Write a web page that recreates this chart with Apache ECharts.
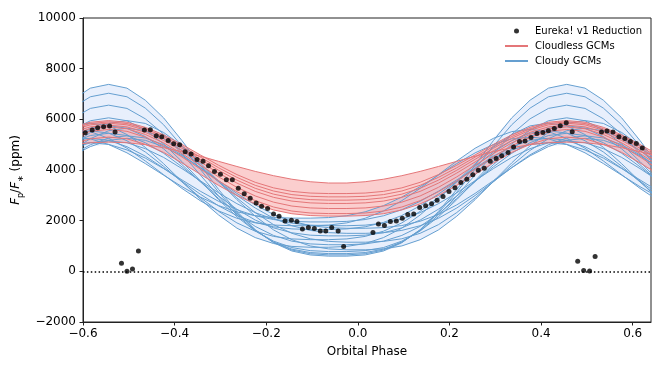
<!DOCTYPE html>
<html><head><meta charset="utf-8">
<script src="https://cdn.jsdelivr.net/npm/echarts/dist/echarts.min.js"></script>
<style>html,body{margin:0;padding:0;background:#fff}#c{width:664px;height:369px}</style>
</head><body><div id="c"></div>
<script>
// model phase grid (GCM sampling)
const modelPhase = [-0.624,-0.584,-0.544,-0.504,-0.464,-0.424,-0.384,-0.344,-0.304,-0.264,-0.224,-0.184,-0.144,-0.104,-0.064,-0.024,0.016,0.056,0.096,0.136,0.176,0.216,0.256,0.296,0.336,0.376,0.416,0.456,0.496,0.536,0.576,0.616,0.656];

// Cloudless GCMs (ppm)
const cloudless = [
 [5000,5076,5100,5076,5000,4881,4724,4541,4342,4139,3945,3775,3636,3537,3486,3486,3537,3636,3775,3945,4139,4342,4541,4724,4881,5000,5076,5100,5076,5000,4881,4724,4541],
 [5685,5887,5950,5887,5685,5388,5008,4596,4187,3819,3514,3295,3156,3090,3070,3070,3090,3156,3295,3514,3819,4187,4596,5008,5388,5685,5887,5950,5887,5685,5388,5008,4596],
 [5628,5835,5900,5835,5628,5323,4932,4509,4088,3710,3396,3171,3029,2961,2940,2940,2961,3029,3171,3396,3710,4088,4509,4932,5323,5628,5835,5900,5835,5628,5323,4932,4509],
 [5570,5783,5850,5783,5570,5257,4856,4421,3990,3600,3278,3047,2901,2831,2810,2810,2831,2901,3047,3278,3600,3990,4421,4856,5257,5570,5783,5850,5783,5570,5257,4856,4421],
 [5486,5702,5770,5702,5486,5167,4760,4318,3879,3483,3156,2921,2773,2702,2680,2680,2702,2773,2921,3156,3483,3879,4318,4760,5167,5486,5702,5770,5702,5486,5167,4760,4318],
 [5404,5629,5700,5629,5404,5072,4647,4187,3729,3317,2976,2731,2577,2503,2480,2480,2503,2577,2731,2976,3317,3729,4187,4647,5072,5404,5629,5700,5629,5404,5072,4647,4187],
 [5295,5527,5600,5527,5295,4953,4514,4040,3568,3143,2791,2539,2380,2303,2280,2280,2303,2380,2539,2791,3143,3568,4040,4514,4953,5295,5527,5600,5527,5295,4953,4514,4040],
 [5013,5231,5300,5231,5013,4692,4280,3834,3391,2991,2660,2423,2274,2202,2180,2180,2202,2274,2423,2660,2991,3391,3834,4280,4692,5013,5231,5300,5231,5013,4692,4280,3834]
];

// Cloudy GCMs (ppm)
const cloudy = [
 [6756,7231,7380,7231,6756,6058,5163,4193,3231,2363,1644,1129,803,647,600,600,647,803,1129,1644,2363,3231,4193,5163,6058,6756,7231,7380,7231,6756,6058,5163,4193],
 [6443,6890,7030,6890,6443,5786,4944,4031,3125,2309,1633,1148,841,695,650,650,695,841,1148,1633,2309,3125,4031,4944,5786,6443,6890,7030,6890,6443,5786,4944,4031],
 [6021,6431,6560,6431,6021,5417,4644,3806,2974,2224,1602,1157,876,741,700,700,741,876,1157,1602,2224,2974,3806,4644,5417,6021,6431,6560,6431,6021,5417,4644,3806],
 [5574,5944,6060,5944,5574,5030,4333,3578,2829,2153,1593,1192,938,817,780,780,817,938,1192,1593,2153,2829,3578,4333,5030,5574,5944,6060,5944,5574,5030,4333,3578],
 [4956,5481,5838,5950,5838,5481,4956,4282,3553,2829,2176,1635,1248,1003,886,850,850,886,1003,1248,1635,2176,2829,3553,4282,4956,5481,5838,5950,5838,5481,4956,4282],
 [5742,5850,5742,5399,4895,4248,3547,2851,2224,1705,1332,1097,984,950,950,984,1097,1332,1705,2224,2851,3547,4248,4895,5399,5742,5850,5742,5399,4895,4248,3547,2851],
 [5318,5647,5750,5647,5318,4834,4213,3541,2874,2272,1774,1417,1191,1083,1050,1050,1083,1191,1417,1774,2272,2874,3541,4213,4834,5318,5647,5750,5647,5318,4834,4213,3541],
 [4773,5236,5551,5650,5551,5236,4773,4179,3535,2896,2320,1843,1501,1285,1182,1150,1150,1182,1285,1501,1843,2320,2896,3535,4179,4773,5236,5551,5650,5551,5236,4773,4179],
 [5455,5550,5455,5154,4712,4144,3529,2918,2368,1912,1585,1379,1280,1250,1250,1280,1379,1585,1912,2368,2918,3529,4144,4712,5154,5455,5550,5455,5154,4712,4144,3529,2918],
 [5077,5361,5450,5361,5077,4660,4126,3547,2971,2453,2024,1716,1522,1428,1400,1400,1428,1522,1716,2024,2453,2971,3547,4126,4660,5077,5361,5450,5361,5077,4660,4126,3547],
 [4599,4996,5265,5350,5265,4996,4599,4091,3541,2994,2501,2093,1800,1616,1527,1500,1500,1527,1616,1800,2093,2501,2994,3541,4091,4599,4996,5265,5350,5265,4996,4599,4091],
 [5171,5250,5171,4919,4548,4073,3558,3047,2586,2204,1931,1758,1675,1650,1650,1675,1758,1931,2204,2586,3047,3558,4073,4548,4919,5171,5250,5171,4919,4548,4073,3558,3047],
 [4842,5076,5150,5076,4842,4497,4055,3576,3100,2671,2316,2061,1901,1823,1800,1800,1823,1901,2061,2316,2671,3100,3576,4055,4497,4842,5076,5150,5076,4842,4497,4055,3576],
 [5011,5080,5011,4792,4470,4056,3609,3164,2764,2432,2194,2044,1972,1950,1950,1972,2044,2194,2432,2764,3164,3609,4056,4470,4792,5011,5080,5011,4792,4470,4056,3609,3164],
 [4558,4923,5172,5250,5172,4923,4558,4089,3582,3077,2623,2247,1977,1807,1725,1700,1700,1725,1807,1977,2247,2623,3077,3582,4089,4558,4923,5172,5250,5172,4923,4558,4089],
 [5600,5516,5250,4859,4357,3814,3274,2788,2385,2096,1914,1827,1800,1800,1827,1914,2096,2385,2788,3274,3814,4357,4859,5250,5516,5600,5516,5250,4859,4357,3814,3274,2788],
 [5300,5230,5006,4676,4254,3796,3342,2932,2593,2350,2196,2122,2100,2100,2122,2196,2350,2593,2932,3342,3796,4254,4676,5006,5230,5300,5230,5006,4676,4254,3796,3342,2932]
];

// Eureka! v1 reduction
const obsPhase = [-0.595,-0.580,-0.568,-0.555,-0.542,-0.530,-0.516,-0.504,-0.492,-0.479,-0.466,-0.453,-0.440,-0.428,-0.414,-0.402,-0.389,-0.377,-0.364,-0.351,-0.338,-0.326,-0.313,-0.300,-0.287,-0.274,-0.261,-0.248,-0.235,-0.222,-0.210,-0.197,-0.184,-0.172,-0.159,-0.145,-0.133,-0.121,-0.108,-0.095,-0.082,-0.070,-0.057,-0.043,-0.031,0.033,0.045,0.058,0.071,0.084,0.097,0.109,0.122,0.135,0.148,0.161,0.173,0.186,0.199,0.212,0.225,0.238,0.251,0.263,0.276,0.289,0.302,0.314,0.328,0.340,0.353,0.365,0.378,0.391,0.404,0.416,0.429,0.442,0.455,0.468,0.480,0.493,0.506,0.518,0.532,0.544,0.557,0.570,0.583,0.595,0.608,0.621];
const obsFlux = [5468,5575,5666,5705,5733,5496,320,4,95,806,5575,5587,5350,5310,5168,5034,4994,4717,4627,4417,4350,4164,3943,3836,3611,3611,3283,3058,2888,2702,2572,2481,2268,2177,1991,2019,1968,1675,1731,1691,1596,1596,1731,1596,980,1533,1873,1810,1968,1991,2098,2244,2268,2521,2584,2663,2809,2955,3153,3295,3508,3639,3817,3994,4073,4350,4457,4559,4694,4903,5128,5140,5286,5444,5484,5547,5642,5745,5863,5508,399,32,16,585,5496,5535,5496,5310,5247,5128,5049,4864];

const xTicks = [-0.6,-0.4,-0.2,0.0,0.2,0.4,0.6];
const yTicks = [-2000,0,2000,4000,6000,8000,10000];

const FONT = 'DejaVu Sans';
const RED = '#e47678', BLUE = '#659fd0';
const pairs = (xs, ys) => xs.map((x, i) => [x, ys[i]]);
const env = (curves, fn) => modelPhase.map((_, i) => fn.apply(null, curves.map(c => c[i])));
const rLo = env(cloudless, Math.min), rHi = env(cloudless, Math.max);
const bLo = env(cloudy, Math.min), bHi = env(cloudy, Math.max);
const minus = s => s.replace('-', '\u2212');

function band(lo, hi, color) {
  return {type:'custom', silent:true, z:1, data:[[modelPhase[0], lo[0]]], encode:{x:0, y:1},
    renderItem: (params, api) => {
      const pts = [];
      for (let i = 0; i < modelPhase.length; i++) pts.push(api.coord([modelPhase[i], hi[i]]));
      for (let i = modelPhase.length - 1; i >= 0; i--) pts.push(api.coord([modelPhase[i], lo[i]]));
      const cs = params.coordSys;
      return {type:'polygon', shape:{points:pts}, style:{fill:color},
        clipPath:{type:'rect', shape:{x:cs.x, y:cs.y, width:cs.width, height:cs.height}}};
    }};
}
const series = [];
series.push(band(bLo, bHi, 'rgba(100,149,237,0.15)'));
series.push(band(rLo, rHi, 'rgba(240,80,80,0.28)'));
cloudy.forEach(c => series.push({type:'line', name:'Cloudy GCMs', data:pairs(modelPhase, c), symbol:'none', showSymbol:false,
  lineStyle:{color:BLUE, width:1}, itemStyle:{color:BLUE}, z:2, silent:true}));
cloudless.forEach(c => series.push({type:'line', name:'Cloudless GCMs', data:pairs(modelPhase, c), symbol:'none', showSymbol:false,
  lineStyle:{color:RED, width:1}, itemStyle:{color:RED}, z:3, silent:true}));
series.push({type:'scatter', name:'Eureka! v1 Reduction', data:pairs(obsPhase, obsFlux), symbol:'circle', symbolSize:5,
  itemStyle:{color:'#000'}, z:5, silent:true,
  markLine:{silent:true, symbol:['none','none'], data:[{yAxis:0}], label:{show:false},
    lineStyle:{color:'#000', type:[1.5,2.4], width:1.5}, animation:false}});

const lineIcon = 'path://M0,0M23,10M0,4h23v2h-23z';
const chart = echarts.init(document.getElementById('c'), null, {renderer:'canvas'});
chart.setOption({
  animation:false,
  backgroundColor:'#fff',
  grid:{left:83, right:13, top:18, bottom:47, show:true, borderColor:'#222', borderWidth:1, backgroundColor:'transparent', containLabel:false, outerBoundsMode:'none'},
  legend:{
    orient:'vertical', left:505, top:26, itemWidth:23, itemHeight:10, itemGap:5, padding:0,
    selectedMode:false, textStyle:{fontFamily:FONT, fontSize:10, color:'#000', padding:[0,0,0,2]},
    data:[
      {name:'Eureka! v1 Reduction', icon:'path://M0,0M10,10M2.5,5a2.5,2.5 0 1,0 5,0a2.5,2.5 0 1,0 -5,0z', itemStyle:{color:'#000'}},
      {name:'Cloudless GCMs', icon:lineIcon, itemStyle:{color:RED}},
      {name:'Cloudy GCMs', icon:lineIcon, itemStyle:{color:BLUE}}
    ]
  },
  xAxis:{type:'value', min:-0.6, max:0.64, interval:0.2,
    name:'Orbital Phase', nameLocation:'middle', nameGap:24,
    nameTextStyle:{fontFamily:FONT, fontSize:12, color:'#000'},
    axisLine:{show:true, onZero:false, lineStyle:{color:'#222', width:1}},
    axisTick:{show:true, length:3.5, lineStyle:{color:'#222'}},
    splitLine:{show:false},
    axisLabel:{show:true, margin:6, fontFamily:FONT, fontSize:12, color:'#000', showMaxLabel:false,
      formatter: v => xTicks.some(t => Math.abs(t - v) < 1e-6) ? minus(v.toFixed(1)) : ''}
  },
  yAxis:{type:'value', min:-2000, max:10000, interval:2000,
    name:'{i|F}{s|p}{n|/}{i|F}{s|\u2217}{n| (ppm)}', nameLocation:'middle', nameGap:53,
    nameTextStyle:{fontFamily:FONT, fontSize:12, color:'#000',
      rich:{i:{fontFamily:FONT, fontSize:12, fontStyle:'italic', color:'#000'},
            n:{fontFamily:FONT, fontSize:12, color:'#000'},
            s:{fontFamily:FONT, fontSize:8, color:'#000', verticalAlign:'bottom', lineHeight:17}}},
    axisLine:{show:true, onZero:false, lineStyle:{color:'#222', width:1}},
    axisTick:{show:true, length:3.5, lineStyle:{color:'#222'}},
    splitLine:{show:false},
    axisLabel:{show:true, margin:7, fontFamily:FONT, fontSize:12, color:'#000',
      formatter: v => yTicks.includes(v) ? minus(String(v)) : ''}
  },
  series: series
});
</script></body></html>
